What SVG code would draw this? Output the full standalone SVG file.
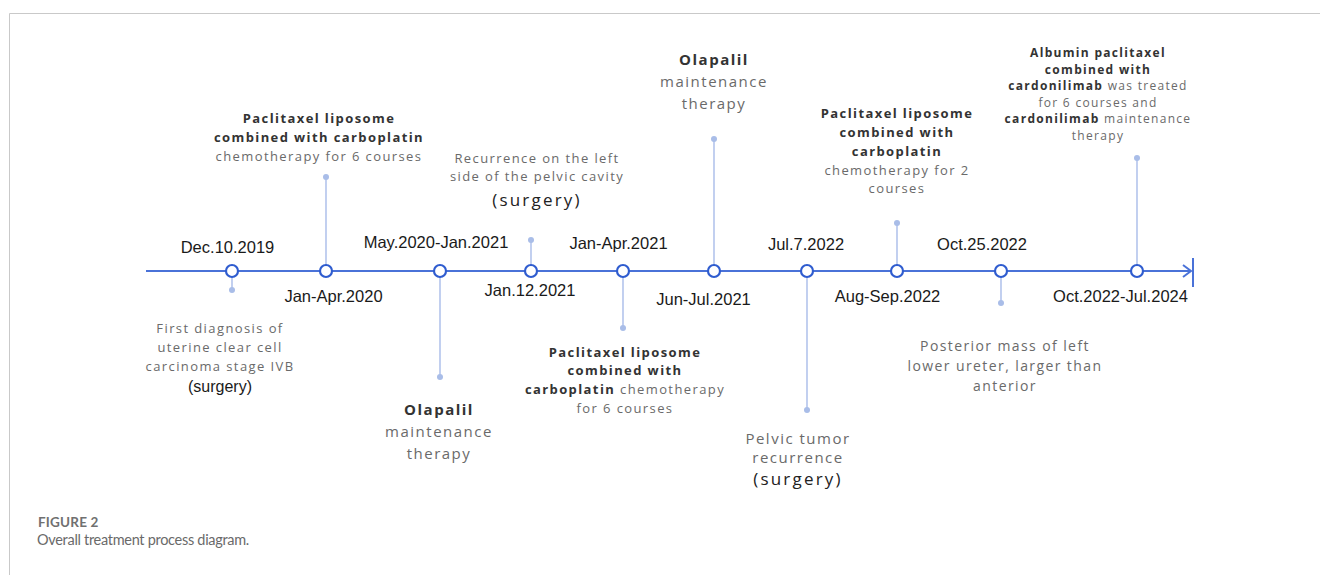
<svg xmlns="http://www.w3.org/2000/svg" width="1320" height="575" viewBox="0 0 1320 575">
<style>
.frame{stroke:#c9c9c9;stroke-width:1;fill:none}
.axis{stroke:#4a72d8;stroke-width:2;fill:none}
.stem{stroke:#b3c4ec;stroke-width:1.6;fill:none}
.dot{fill:#a9bde8}
.node{fill:#fff;stroke:#2f5ccf;stroke-width:2.2}
.d{font-family:"Liberation Sans",Arial,sans-serif;font-size:16.5px;fill:#1a1a1a;text-anchor:middle}
.n{font-family:"Open Sans","DejaVu Sans",sans-serif;font-size:13px;fill:#6a6a6a;letter-spacing:1.4px;text-anchor:middle}
.s{font-size:12px;letter-spacing:1.3px}
.m{font-size:15px;letter-spacing:1.5px}
.p{font-size:14px;letter-spacing:1.4px}
.b{font-weight:700;fill:#333}
.sg{font-family:"Open Sans","DejaVu Sans",sans-serif;font-size:17px;fill:#222;letter-spacing:2.2px;text-anchor:middle}
.sa{font-family:"Liberation Sans",Arial,sans-serif;font-size:16px;fill:#1a1a1a;text-anchor:middle}
.cap1{font-family:Lato,"Open Sans",sans-serif;font-size:13.5px;font-weight:700;fill:#707070;letter-spacing:0.2px}
.cap2{font-family:Lato,"Open Sans",sans-serif;font-size:14.5px;fill:#6a6a6a;letter-spacing:-0.3px}
</style>
<g id="frame">
<path class="frame" d="M9.5,575 V13.5 H1320"/>
</g>
<g id="connectors">
<path class="axis" d="M146,271 H1191"/>
<path class="axis" d="M1183,265 L1191,271 L1183,277"/>
<path class="axis" d="M1193,258 V287"/>
<path class="stem" d="M232,271 V290"/>
<path class="stem" d="M326,271 V177"/>
<path class="stem" d="M440,271 V377"/>
<path class="stem" d="M531,271 V240"/>
<path class="stem" d="M623,271 V328"/>
<path class="stem" d="M714,271 V139"/>
<path class="stem" d="M807,271 V410"/>
<path class="stem" d="M897,271 V223"/>
<path class="stem" d="M1001,271 V303"/>
<path class="stem" d="M1137,271 V158"/>
<circle class="dot" cx="232" cy="290" r="3"/>
<circle class="dot" cx="326" cy="177" r="3"/>
<circle class="dot" cx="440" cy="377" r="3"/>
<circle class="dot" cx="531" cy="240" r="3"/>
<circle class="dot" cx="623" cy="328" r="3"/>
<circle class="dot" cx="714" cy="139" r="3"/>
<circle class="dot" cx="807" cy="410" r="3"/>
<circle class="dot" cx="897" cy="223" r="3"/>
<circle class="dot" cx="1001" cy="303" r="3"/>
<circle class="dot" cx="1137" cy="158" r="3"/>
</g>
<g id="n1">
<circle class="node" cx="232" cy="271" r="6"/>
<text class="d" x="227.5" y="253">Dec.10.2019</text>
<text class="n" x="220" y="333">First diagnosis of</text>
<text class="n" x="220" y="352">uterine clear cell</text>
<text class="n" x="220" y="371">carcinoma stage IVB</text>
<text class="sa" x="220" y="392">(surgery)</text>
</g>
<g id="n2">
<circle class="node" cx="326" cy="271" r="6"/>
<text class="d" x="333.5" y="302">Jan-Apr.2020</text>
<text class="n b" x="319" y="123">Paclitaxel liposome</text>
<text class="n b" x="319" y="142">combined with carboplatin</text>
<text class="n" x="319" y="161">chemotherapy for 6 courses</text>
</g>
<g id="n3">
<circle class="node" cx="440" cy="271" r="6"/>
<text class="d" x="436" y="248">May.2020-Jan.2021</text>
<text class="n m b" x="439" y="415">Olapalil</text>
<text class="n m" x="439" y="437">maintenance</text>
<text class="n m" x="439" y="459">therapy</text>
</g>
<g id="n4">
<circle class="node" cx="531" cy="271" r="6"/>
<text class="d" x="530" y="296">Jan.12.2021</text>
<text class="n" x="537" y="163">Recurrence on the left</text>
<text class="n" x="537" y="181">side of the pelvic cavity</text>
<text class="sg" x="537" y="206">(surgery)</text>
</g>
<g id="n5">
<circle class="node" cx="623" cy="271" r="6"/>
<text class="d" x="618.5" y="249">Jan-Apr.2021</text>
<text class="n b" x="625" y="357">Paclitaxel liposome</text>
<text class="n b" x="625" y="375">combined with</text>
<text class="n" x="625" y="394"><tspan class="b">carboplatin</tspan> chemotherapy</text>
<text class="n" x="625" y="413">for 6 courses</text>
</g>
<g id="n6">
<circle class="node" cx="714" cy="271" r="6"/>
<text class="d" x="703.5" y="305">Jun-Jul.2021</text>
<text class="n m b" x="714" y="65">Olapalil</text>
<text class="n m" x="714" y="87">maintenance</text>
<text class="n m" x="714" y="109">therapy</text>
</g>
<g id="n7">
<circle class="node" cx="807" cy="271" r="6"/>
<text class="d" x="806" y="250">Jul.7.2022</text>
<text class="n m" x="798" y="444">Pelvic tumor</text>
<text class="n m" x="798" y="463">recurrence</text>
<text class="sg" x="798" y="485">(surgery)</text>
</g>
<g id="n8">
<circle class="node" cx="897" cy="271" r="6"/>
<text class="d" x="887.5" y="302">Aug-Sep.2022</text>
<text class="n b" x="897" y="118">Paclitaxel liposome</text>
<text class="n b" x="897" y="137">combined with</text>
<text class="n b" x="897" y="156">carboplatin</text>
<text class="n" x="897" y="175">chemotherapy for 2</text>
<text class="n" x="897" y="193">courses</text>
</g>
<g id="n9">
<circle class="node" cx="1001" cy="271" r="6"/>
<text class="d" x="982" y="250">Oct.25.2022</text>
<text class="n p" x="1005" y="351">Posterior mass of left</text>
<text class="n p" x="1005" y="371">lower ureter, larger than</text>
<text class="n p" x="1005" y="391">anterior</text>
</g>
<g id="n10">
<circle class="node" cx="1137" cy="271" r="6"/>
<text class="d" x="1120.5" y="302">Oct.2022-Jul.2024</text>
<text class="n s b" x="1098" y="57">Albumin paclitaxel</text>
<text class="n s b" x="1098" y="74">combined with</text>
<text class="n s" x="1098" y="90"><tspan class="b">cardonilimab</tspan> was treated</text>
<text class="n s" x="1098" y="107">for 6 courses and</text>
<text class="n s" x="1098" y="123"><tspan class="b">cardonilimab</tspan> maintenance</text>
<text class="n s" x="1098" y="140">therapy</text>
</g>
<g id="caption">
<text class="cap1" x="38" y="527">FIGURE 2</text>
<text class="cap2" x="37" y="545">Overall treatment process diagram.</text>
</g>
</svg>
